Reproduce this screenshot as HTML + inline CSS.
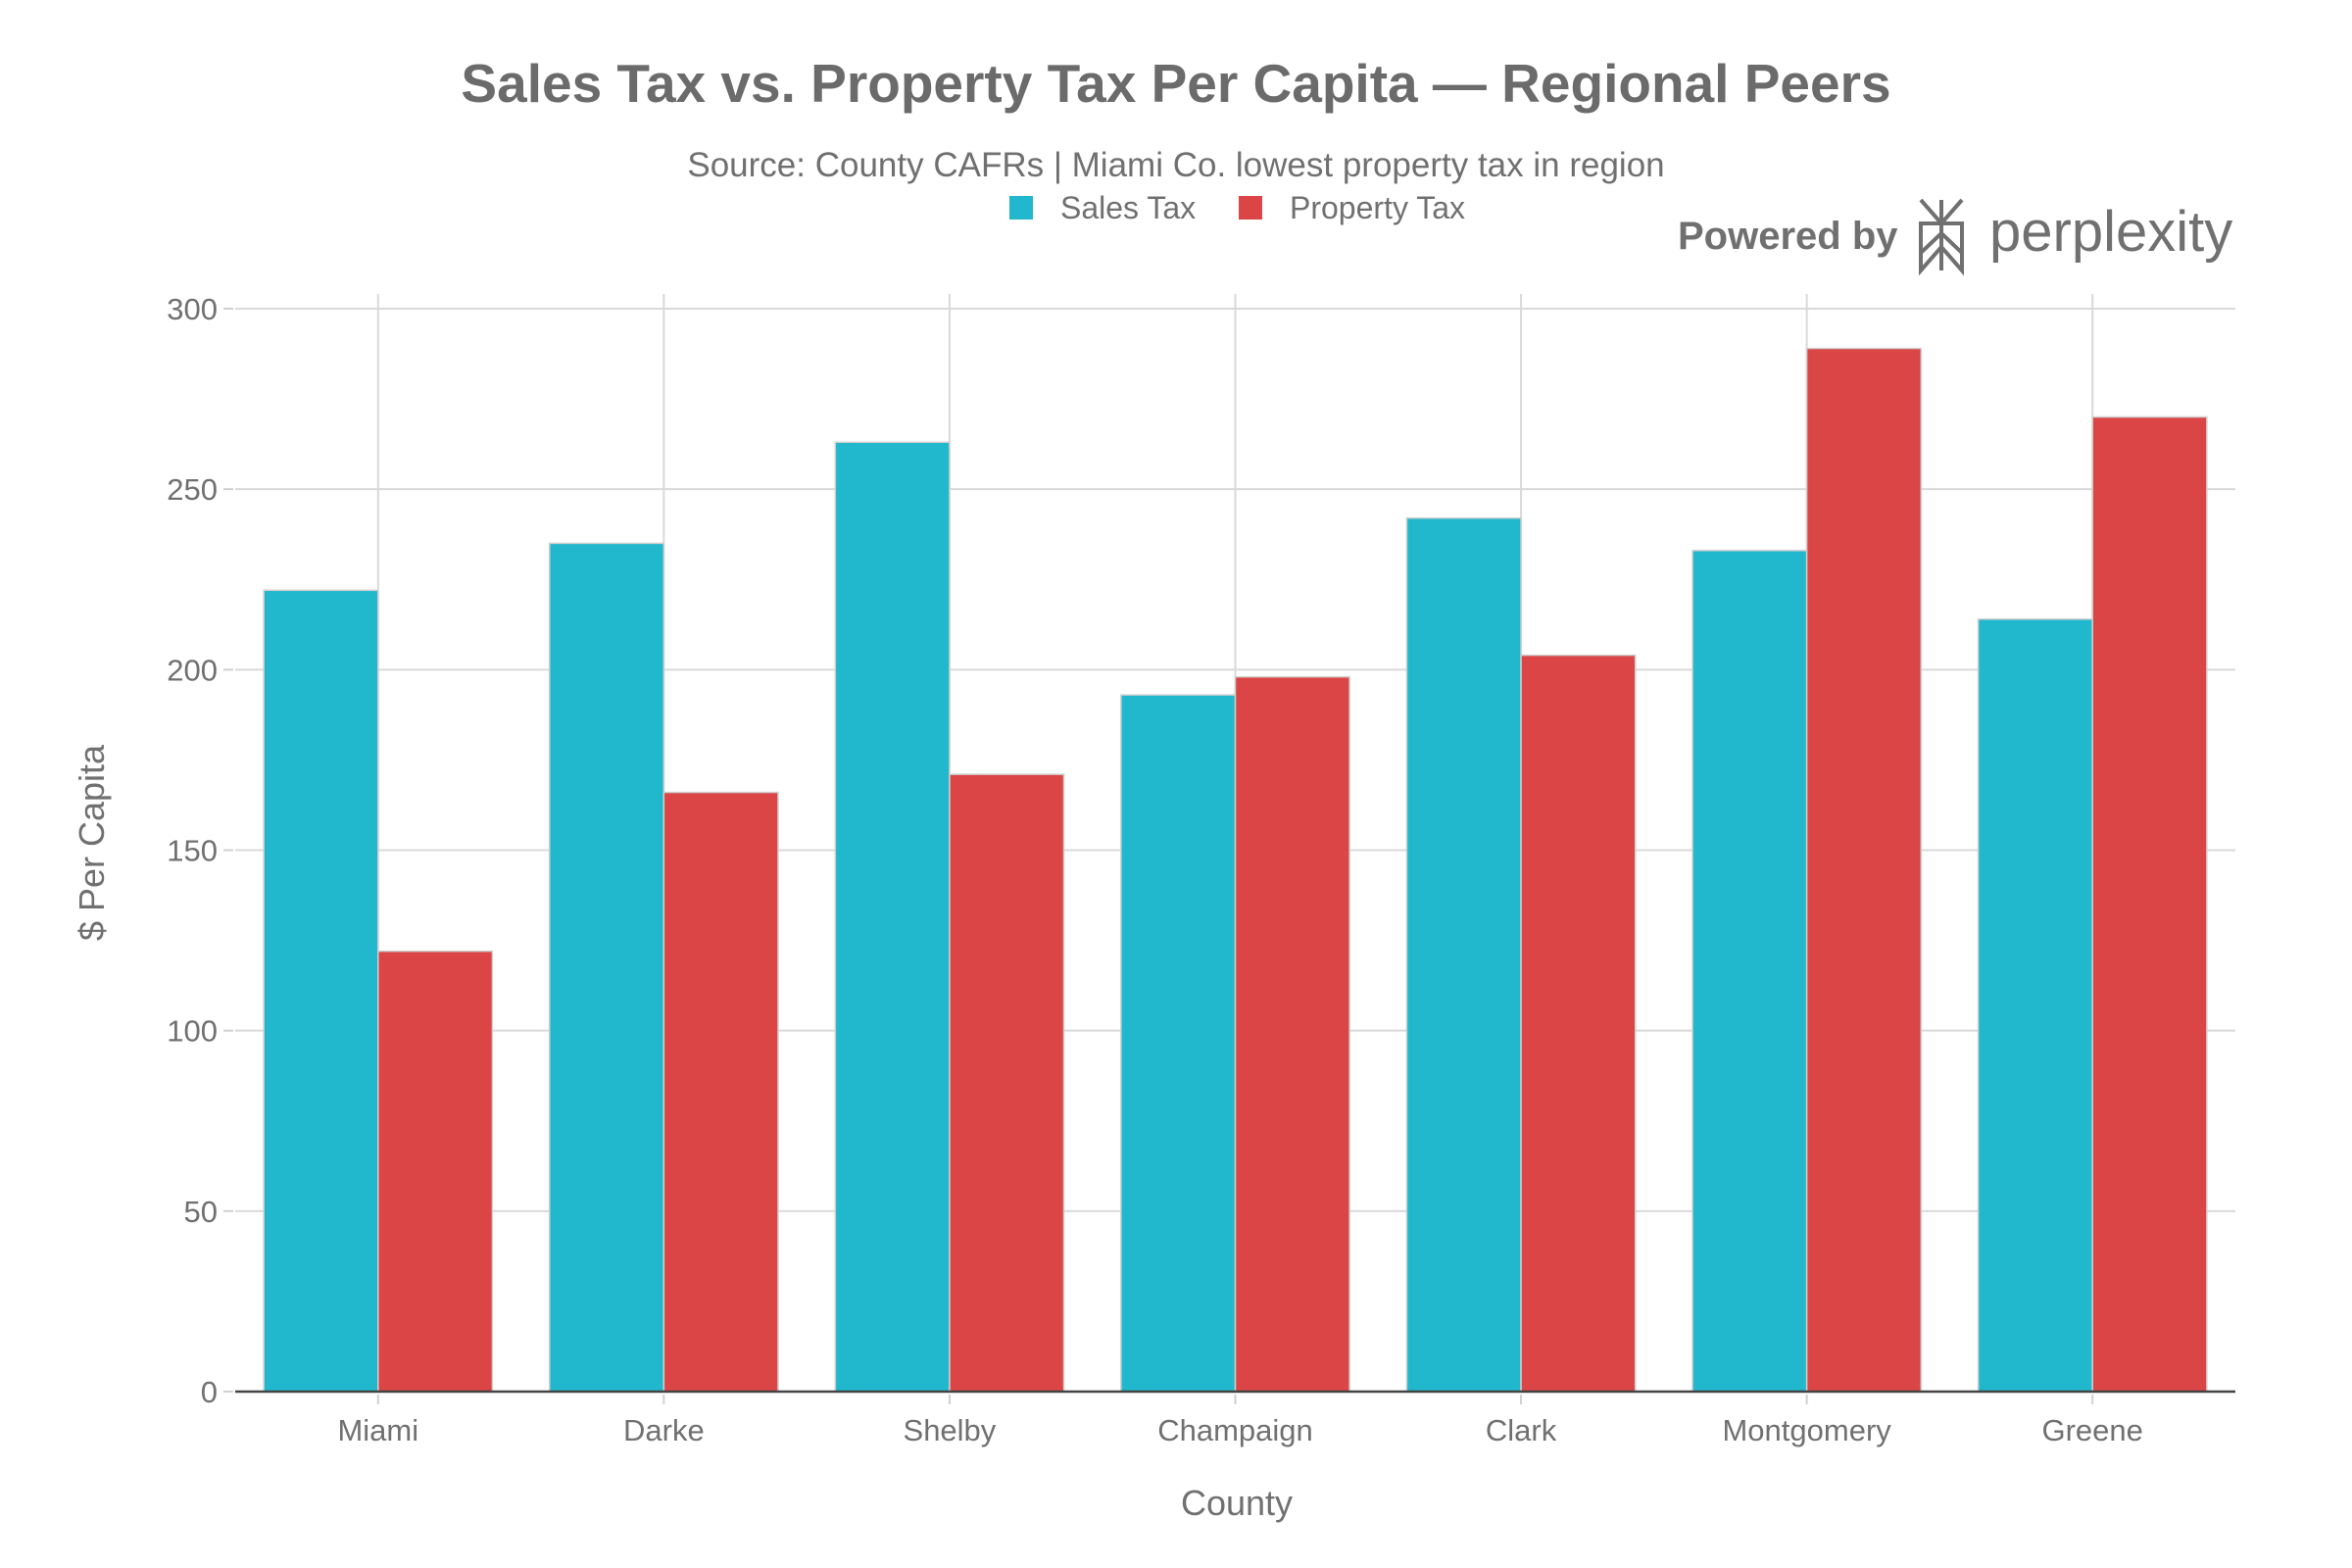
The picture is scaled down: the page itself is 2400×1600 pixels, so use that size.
<!DOCTYPE html>
<html><head><meta charset="utf-8"><style>
html,body{margin:0;padding:0;background:#fff;}
svg{display:block;font-family:"Liberation Sans",sans-serif;}
</style></head><body>
<svg id="chart" width="2400" height="1600" viewBox="0 0 2400 1600">
<text x="1200" y="104" text-anchor="middle" font-size="55" font-weight="bold" fill="#6b6b6b">Sales Tax vs. Property Tax Per Capita — Regional Peers</text>
<text x="1200" y="180" text-anchor="middle" font-size="35" fill="#707070">Source: County CAFRs | Miami Co. lowest property tax in region</text>
<g>
<g><rect x="1030" y="200" width="24" height="24" fill="#21B8CD"/><text x="1082" y="223" font-size="32" fill="#707070">Sales Tax</text></g>
<g><rect x="1264" y="200" width="24" height="24" fill="#DB4545"/><text x="1316" y="223" font-size="32" fill="#707070">Property Tax</text></g>
</g>
<g fill="none" stroke="#707070" stroke-width="4">
<text x="1712" y="254" font-size="40" font-weight="bold" fill="#707070" stroke="none">Powered by</text>
<path d="M1960 204 L1981 228 L2002 204 M1981 204 L1981 276 M1960 228 L2002 228 L2002 258 L1981 238 L1960 258 Z M1960 228 L1960 276 L1981 252 L2002 276 L2002 228" />
<text x="2030" y="256" font-size="58" fill="#707070" stroke="none">perplexity</text>
</g>
<g id="grid"></g>
<g id="bars"></g>
<g id="axes"></g>
<text x="1262" y="1546" text-anchor="middle" font-size="36" fill="#707070">County</text>
<text transform="translate(106,860) rotate(-90)" text-anchor="middle" font-size="36" fill="#707070">$ Per Capita</text>
</svg>
<script>
const categories = ["Miami","Darke","Shelby","Champaign","Clark","Montgomery","Greene"];
const salesTax = [222,235,263,193,242,233,214];
const propertyTax = [122,166,171,198,204,289,270];
const yTicks = [0,50,100,150,200,250,300];

const NS = "http://www.w3.org/2000/svg";
const left = 240, right = 2281, y0 = 1420, y300 = 315;
const band = (right - left) / categories.length;
function yScale(v){ return y0 - (v/300)*(y0 - y300); }
function xCenter(i){ return left + band*(i+0.5); }
function mk(tag, attrs, parent){ const e=document.createElementNS(NS,tag); for(const k in attrs) e.setAttribute(k,attrs[k]); parent.appendChild(e); return e; }
const grid=document.getElementById('grid'), bars=document.getElementById('bars'), axes=document.getElementById('axes');

yTicks.forEach(t=>{
  const y=yScale(t);
  if(t>0){ const l=mk('line',{x1:left,x2:right,y1:y,y2:y,stroke:'#d9d9d9','stroke-width':2},grid);
      }
  mk('line',{x1:228,x2:238,y1:y,y2:y,stroke:'#d0d0d0','stroke-width':2},axes);
  const tx=mk('text',{x:222,y:y+11,'text-anchor':'end','font-size':31,fill:'#707070'},axes);
  tx.textContent=t;
   
});
categories.forEach((c,i)=>{
  const cx=xCenter(i);
  const g=mk('line',{x1:cx,x2:cx,y1:300,y2:y0,stroke:'#d9d9d9','stroke-width':2},grid);
   
  const bw=band*0.4;
  const b1=mk('rect',{x:cx-bw,y:yScale(salesTax[i]),width:bw,height:y0-yScale(salesTax[i]),fill:'#21B8CD',stroke:'#cfcfcf','stroke-width':1.5},bars);
   
  const b2=mk('rect',{x:cx,y:yScale(propertyTax[i]),width:bw,height:y0-yScale(propertyTax[i]),fill:'#DB4545',stroke:'#cfcfcf','stroke-width':1.5},bars);
   
  mk('line',{x1:cx,x2:cx,y1:y0+3,y2:y0+13,stroke:'#d0d0d0','stroke-width':2},axes);
  const tx=mk('text',{x:cx,y:1470,'text-anchor':'middle','font-size':31,fill:'#707070'},axes);
  tx.textContent=c;
   
});
const ax=mk('line',{x1:left,x2:right,y1:y0,y2:y0,stroke:'#444','stroke-width':2.5},axes);
 
</script>
</body></html>
